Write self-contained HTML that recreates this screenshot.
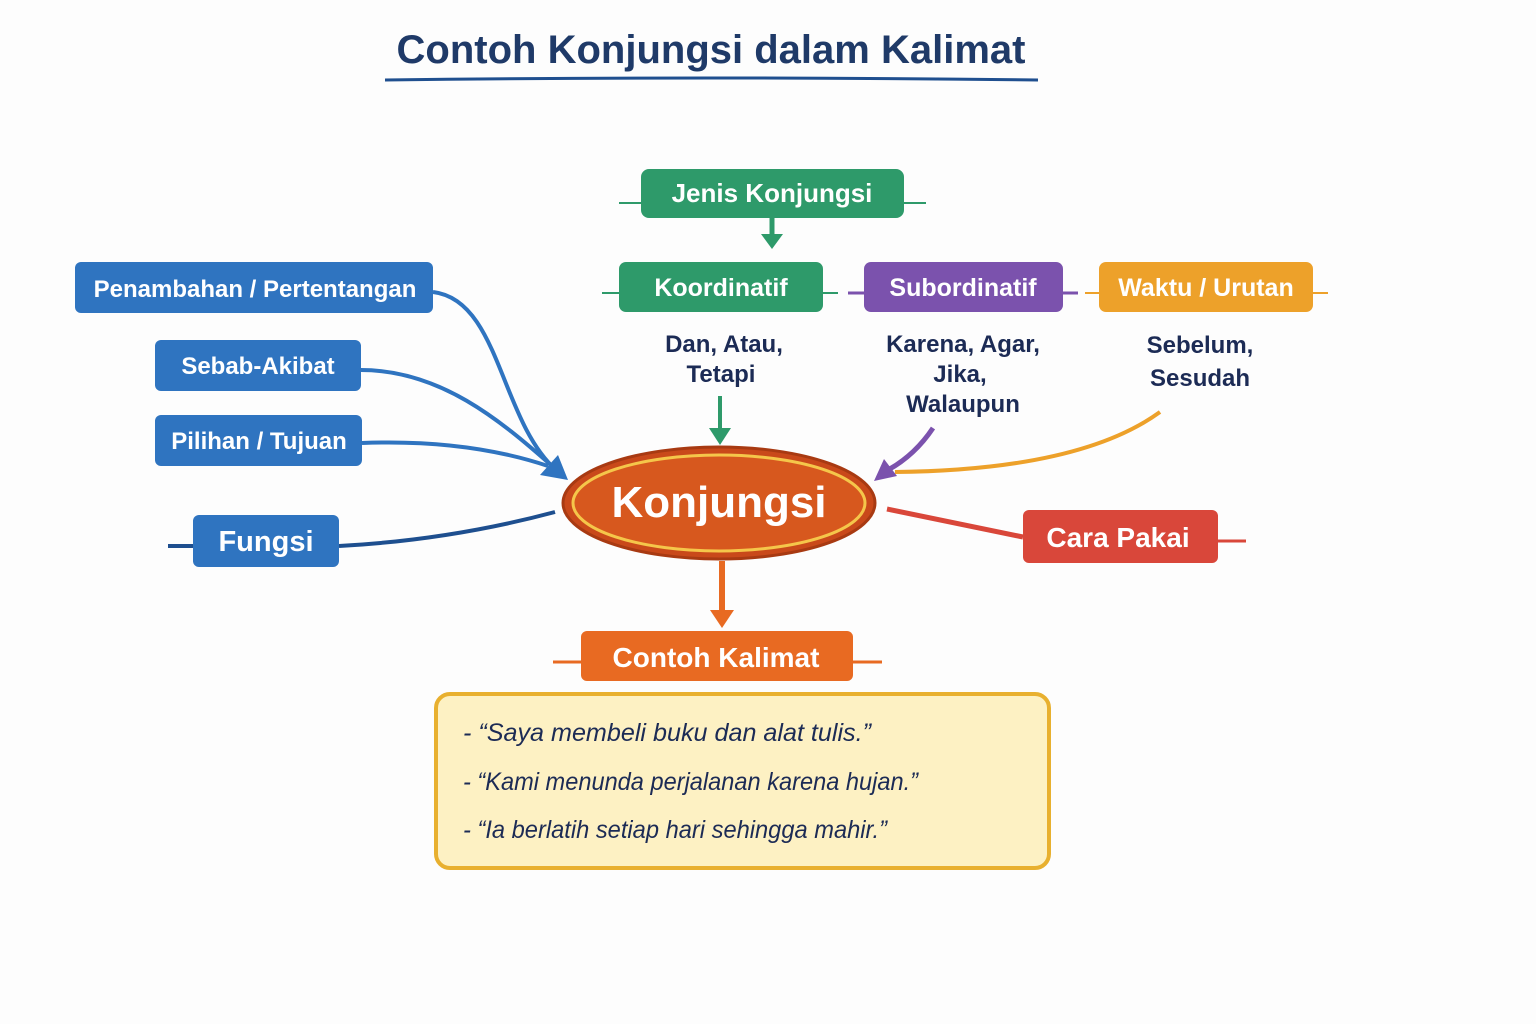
<!DOCTYPE html>
<html><head><meta charset="utf-8"><style>
html,body{margin:0;padding:0;background:#fdfdfd;}
svg{display:block;font-family:"Liberation Sans",sans-serif;}
.bt{font-weight:bold;fill:#fff;text-anchor:middle;}
.nv{font-weight:bold;fill:#1c2b55;text-anchor:middle;font-size:24px;}
.it{font-style:italic;fill:#1c2b55;font-size:25px;}
</style></head><body>
<svg width="1536" height="1024" viewBox="0 0 1536 1024">
<text x="711" y="63" text-anchor="middle" font-size="40" font-weight="bold" fill="#1f3a68">Contoh Konjungsi dalam Kalimat</text>
<path d="M385,80 Q711,76 1038,80" stroke="#1f4f8f" stroke-width="3" fill="none"/>

<line x1="619" y1="203" x2="926" y2="203" stroke="#2e9a6a" stroke-width="2"/>
<rect x="641" y="169" width="263" height="49" rx="8" fill="#2e9a6a"/>
<text x="772" y="202" class="bt" font-size="26">Jenis Konjungsi</text>
<line x1="772" y1="218" x2="772" y2="236" stroke="#2e9a6a" stroke-width="5"/>
<path d="M761,234L783,234L772,249z" fill="#2e9a6a"/>

<line x1="602" y1="293" x2="838" y2="293" stroke="#2e9a6a" stroke-width="2"/>
<rect x="619" y="262" width="204" height="50" rx="7" fill="#2e9a6a"/>
<text x="721" y="296" class="bt" font-size="25">Koordinatif</text>
<line x1="848" y1="293" x2="1078" y2="293" stroke="#7b52ad" stroke-width="3"/>
<rect x="864" y="262" width="199" height="50" rx="7" fill="#7b52ad"/>
<text x="963" y="296" class="bt" font-size="25">Subordinatif</text>
<line x1="1085" y1="293" x2="1328" y2="293" stroke="#eda12a" stroke-width="2"/>
<rect x="1099" y="262" width="214" height="50" rx="7" fill="#eda12a"/>
<text x="1206" y="296" class="bt" font-size="25">Waktu / Urutan</text>

<text x="724" y="352" class="nv">Dan, Atau,</text>
<text x="721" y="382" class="nv">Tetapi</text>
<text x="963" y="352" class="nv">Karena, Agar,</text>
<text x="960" y="382" class="nv">Jika,</text>
<text x="963" y="412" class="nv">Walaupun</text>
<text x="1200" y="353" class="nv">Sebelum,</text>
<text x="1200" y="386" class="nv">Sesudah</text>

<line x1="720" y1="396" x2="720" y2="430" stroke="#2e9a6a" stroke-width="4"/>
<path d="M709,428L731,428L720,445z" fill="#2e9a6a"/>
<path d="M933,428 Q915,455 888,470" stroke="#7b52ad" stroke-width="5" fill="none"/>
<path d="M874,481L884,459L897,476z" fill="#7b52ad"/>
<path d="M1160,412 Q1080,470 895,472" stroke="#eda12a" stroke-width="4" fill="none"/>

<path d="M433,292 C500,300 500,420 556,470" stroke="#2f74c0" stroke-width="4" fill="none"/>
<path d="M361,370 C440,370 500,420 552,466" stroke="#2f74c0" stroke-width="4" fill="none"/>
<path d="M362,443 C440,440 500,450 548,466" stroke="#2f74c0" stroke-width="4" fill="none"/>
<path d="M568,480L540,475L558,455z" fill="#2f74c0"/>
<rect x="75" y="262" width="358" height="51" rx="6" fill="#2f74c0"/>
<text x="255" y="297" class="bt" font-size="24">Penambahan / Pertentangan</text>
<rect x="155" y="340" width="206" height="51" rx="6" fill="#2f74c0"/>
<text x="258" y="374" class="bt" font-size="24">Sebab-Akibat</text>
<rect x="155" y="415" width="207" height="51" rx="6" fill="#2f74c0"/>
<text x="259" y="449" class="bt" font-size="24">Pilihan / Tujuan</text>
<path d="M168,546 L193,546 M339,546 Q450,540 555,512" stroke="#1e4f8f" stroke-width="4" fill="none"/>
<rect x="193" y="515" width="146" height="52" rx="6" fill="#2f74c0"/>
<text x="266" y="551" class="bt" font-size="29">Fungsi</text>

<line x1="887" y1="509" x2="1023" y2="537" stroke="#d9473a" stroke-width="5"/>
<line x1="1218" y1="541" x2="1246" y2="541" stroke="#d9473a" stroke-width="3"/>
<rect x="1023" y="510" width="195" height="53" rx="6" fill="#d9473a"/>
<text x="1118" y="547" class="bt" font-size="28">Cara Pakai</text>

<ellipse cx="719" cy="503" rx="156" ry="56" fill="#c9491a" stroke="#a83a12" stroke-width="3"/>
<ellipse cx="719" cy="503" rx="146" ry="48" fill="#d7581e" stroke="#f5c64a" stroke-width="3"/>
<text x="719" y="517" class="bt" font-size="44">Konjungsi</text>

<line x1="722" y1="561" x2="722" y2="612" stroke="#e86a22" stroke-width="6"/>
<path d="M710,610L734,610L722,628z" fill="#e86a22"/>
<line x1="553" y1="662" x2="882" y2="662" stroke="#e86a22" stroke-width="3"/>
<rect x="581" y="631" width="272" height="50" rx="6" fill="#e86a22"/>
<text x="716" y="667" class="bt" font-size="28">Contoh Kalimat</text>

<rect x="436" y="694" width="613" height="174" rx="14" fill="#fdf1c3" stroke="#e8b02f" stroke-width="4"/>
<text x="463" y="741" class="it" textLength="408" lengthAdjust="spacingAndGlyphs">-  “Saya membeli buku dan alat tulis.”</text>
<text x="463" y="790" class="it" textLength="455" lengthAdjust="spacingAndGlyphs">-  “Kami menunda perjalanan karena hujan.”</text>
<text x="463" y="838" class="it" textLength="424" lengthAdjust="spacingAndGlyphs">-  “Ia berlatih setiap hari sehingga mahir.”</text>
</svg>
</body></html>
